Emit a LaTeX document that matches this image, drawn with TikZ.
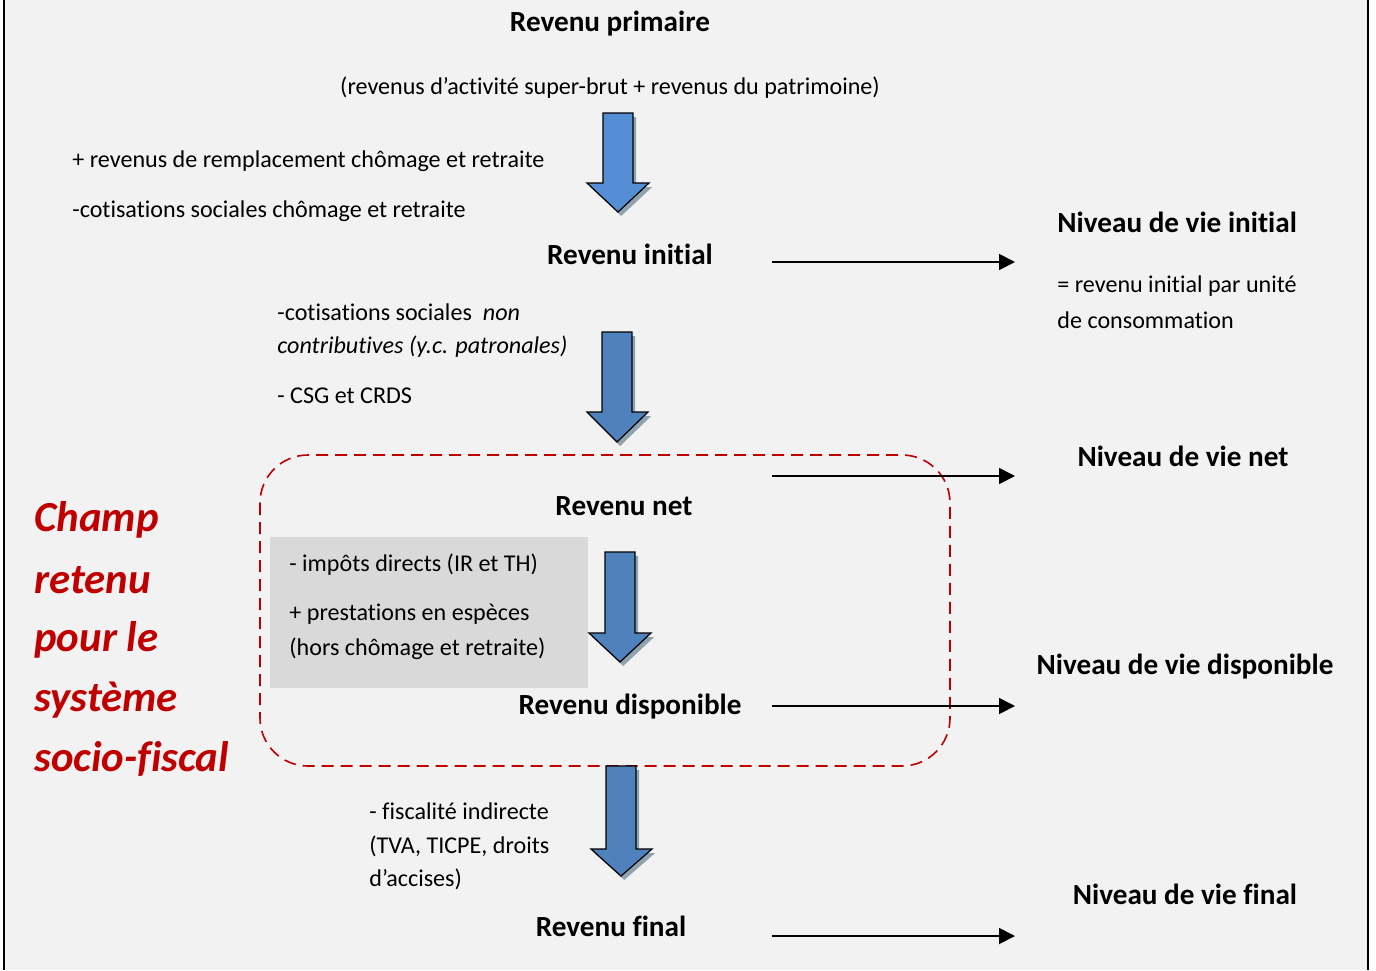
\documentclass[tikz,border=0pt]{standalone}
\usepackage{fontspec}
\setmainfont{Carlito}[Ligatures=NoCommon]
\usepackage{xcolor}
\usetikzlibrary{arrows.meta,shadows}

\definecolor{fond}{HTML}{F2F2F2}
\definecolor{grisbox}{HTML}{D9D9D9}
\definecolor{rouge}{HTML}{C00000}
\definecolor{bleu}{HTML}{4F81BD}
\definecolor{bleuclair}{HTML}{558ED5}
\definecolor{ombre}{HTML}{8FA3AE}

\tikzset{
  txt/.style={inner sep=0pt,anchor=west,yshift=-.7pt,font=\fontsize{12.05}{14}\selectfont},
  titre/.style={inner sep=0pt,yshift=-.7pt,font=\fontsize{14.6}{17}\selectfont\bfseries},
  champ/.style={inner sep=0pt,anchor=west,yshift=-.5pt,text=rouge,font=\fontsize{21.4}{24}\selectfont\bfseries\itshape},
  fleche/.style={draw=black,line width=.6pt,fill=bleu,
    drop shadow={shadow xshift=1.6pt,shadow yshift=-2pt,fill=ombre,opacity=1}},
  niveau/.style={-{Triangle[length=8pt,width=8pt]},line width=.9pt},
}

\begin{document}
\begin{tikzpicture}[x=0.5pt,y=-0.5pt]
 \useasboundingbox (0,0) rectangle (1376,970);
 \fill[fond] (4,0) rectangle (1368,970);
 \draw[line width=1pt] (3.5,0) -- (3.5,970);
 \draw[line width=1pt] (1368,0) -- (1368,970);

 % champ socio-fiscal
 \fill[grisbox] (270,537) rectangle (588,688);
 \draw[rouge,line width=.8pt,dash pattern=on 6pt off 3.5pt,rounded corners=24pt]
   (260,455) rectangle (950,766);

 % grosses fleches
 \draw[fleche,fill=bleuclair] (603,113) -- (633,113) -- (633,183) -- (649,183)
   -- (618,212) -- (587,183) -- (603,183) -- cycle;
 \draw[fleche] (602,332) -- (632,332) -- (632,412) -- (648,412)
   -- (617,442) -- (587,412) -- (602,412) -- cycle;
 \draw[fleche] (605,552) -- (635,552) -- (635,633) -- (651,633)
   -- (620,662) -- (589,633) -- (605,633) -- cycle;
 \draw[fleche] (606,766) -- (636,766) -- (636,849) -- (652,849)
   -- (621,876) -- (591,849) -- (606,849) -- cycle;

 % revenus
 \node[titre] (rprim) at (610,22) {Revenu primaire};
 \node[txt,anchor=center] (rprimdef) at (610,86)
   {(revenus d’activité super-brut + revenus du patrimoine)};
 \node[txt] (remp) at (72,160) {+ revenus de remplacement chômage et retraite};
 \node[txt] (cotis) at (72,210) {-cotisations sociales chômage et retraite};
 \node[titre] (rinit) at (630,253) {Revenu initial};
 \node[txt] (noncontr1) at (277,311) {-cotisations sociales\ \ \textit{non}};
 \node[txt] (noncontr2) at (277,345) {\textit{contributives (y.c. patronales)}};
 \node[txt] (csg) at (277,394) {- CSG et CRDS};
 \node[titre] (rnet) at (624,505) {Revenu net};
 \node[txt] (impots) at (289,563) {- impôts directs (IR et TH)};
 \node[txt] (prest1) at (289,613) {+ prestations en espèces};
 \node[txt] (prest2) at (289,647) {(hors chômage et retraite)};
 \node[titre] (rdisp) at (630,705) {Revenu disponible};
 \node[txt] (fisc1) at (369,810) {- fiscalité indirecte};
 \node[txt] (fisc2) at (369,845) {(TVA, TICPE, droits};
 \node[txt] (fisc3) at (369,878) {d’accises)};
 \node[titre] (rfinal) at (611,925) {Revenu final};

 % niveaux de vie
 \node[titre,anchor=west] (nvinit) at (1057,221) {Niveau de vie initial};
 \node[txt] (uc1) at (1057,285) {= revenu initial par unité};
 \node[txt] (uc2) at (1057,319) {de consommation};
 \node[titre] (nvnet) at (1183,455) {Niveau de vie net};
 \node[titre] (nvdisp) at (1185,665) {Niveau de vie disponible};
 \node[titre] (nvfinal) at (1185,893) {Niveau de vie final};

 % fleches vers les niveaux de vie
 \coordinate (d1) at (772,262);  \coordinate (f1) at (1015,262);
 \coordinate (d2) at (772,476);  \coordinate (f2) at (1015,476);
 \coordinate (d3) at (772,706);  \coordinate (f3) at (1015,706);
 \coordinate (d4) at (772,936);  \coordinate (f4) at (1015,936);
 \draw[niveau] (d1) -- (f1);
 \draw[niveau] (d2) -- (f2);
 \draw[niveau] (d3) -- (f3);
 \draw[niveau] (d4) -- (f4);

 % champ retenu
 \node[champ] (ch1) at (34,519) {Champ};
 \node[champ] (ch2) at (34,579) {retenu};
 \node[champ] (ch3) at (34,639) {pour le};
 \node[champ] (ch4) at (34,699) {système};
 \node[champ] (ch5) at (34,758) {socio-fiscal};
\end{tikzpicture}
\end{document}
